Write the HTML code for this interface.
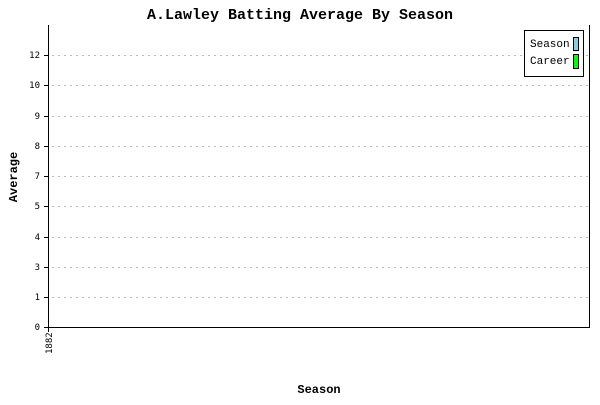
<!DOCTYPE html>
<html><head><style>body{margin:0;background:#fff}</style></head><body>
<svg width="600" height="400" xmlns="http://www.w3.org/2000/svg" font-family="Liberation Mono, DejaVu Sans Mono, monospace">
<rect width="600" height="400" fill="#fff"/>
<text x="300" y="19" text-anchor="middle" font-size="15" font-weight="bold">A.Lawley Batting Average By Season</text>
<g stroke="#bbb" stroke-dasharray="2,4" stroke-width="1">
<line x1="52" x2="589" y1="55.5" y2="55.5"/>
<line x1="52" x2="589" y1="85.5" y2="85.5"/>
<line x1="52" x2="589" y1="116.5" y2="116.5"/>
<line x1="52" x2="589" y1="146.5" y2="146.5"/>
<line x1="52" x2="589" y1="176.5" y2="176.5"/>
<line x1="52" x2="589" y1="206.5" y2="206.5"/>
<line x1="52" x2="589" y1="237.5" y2="237.5"/>
<line x1="52" x2="589" y1="267.5" y2="267.5"/>
<line x1="52" x2="589" y1="297.5" y2="297.5"/>
</g>
<g stroke="#000">
<line x1="48.5" x2="48.5" y1="25" y2="332"/>
<line x1="48" x2="590" y1="327.5" y2="327.5"/>
<line x1="589.5" x2="589.5" y1="25" y2="328"/>
<line x1="44" x2="48" y1="55.5" y2="55.5"/><line x1="44" x2="48" y1="85.5" y2="85.5"/>
<line x1="44" x2="48" y1="116.5" y2="116.5"/><line x1="44" x2="48" y1="146.5" y2="146.5"/>
<line x1="44" x2="48" y1="176.5" y2="176.5"/><line x1="44" x2="48" y1="206.5" y2="206.5"/>
<line x1="44" x2="48" y1="237.5" y2="237.5"/><line x1="44" x2="48" y1="267.5" y2="267.5"/>
<line x1="44" x2="48" y1="297.5" y2="297.5"/><line x1="44" x2="48" y1="327.5" y2="327.5"/>
</g>
<g font-size="9" text-anchor="end" font-family="DejaVu Sans Mono, monospace">
<text x="40" y="58">12</text><text x="40" y="88">10</text><text x="40" y="119">9</text>
<text x="40" y="149">8</text><text x="40" y="179">7</text><text x="40" y="209">5</text>
<text x="40" y="240">4</text><text x="40" y="270">3</text><text x="40" y="300">1</text>
<text x="40" y="330">0</text>
</g>
<text transform="translate(52,354) rotate(-90)" font-size="9" font-family="DejaVu Sans Mono, monospace">1882</text>
<text x="319" y="393" text-anchor="middle" font-size="12" font-weight="bold">Season</text>
<text transform="translate(17,177) rotate(-90)" text-anchor="middle" font-size="12" font-weight="bold">Average</text>
<rect x="524.5" y="30.5" width="59" height="46" fill="#fff" stroke="#000"/>
<text x="530" y="47" font-size="11">Season</text>
<text x="530" y="64" font-size="11">Career</text>
<rect x="573.5" y="37.5" width="5" height="13" fill="#87ceeb" stroke="#000"/>
<rect x="573.5" y="54.5" width="5" height="14" fill="#00ff00" stroke="#000"/>
</svg>
</body></html>
